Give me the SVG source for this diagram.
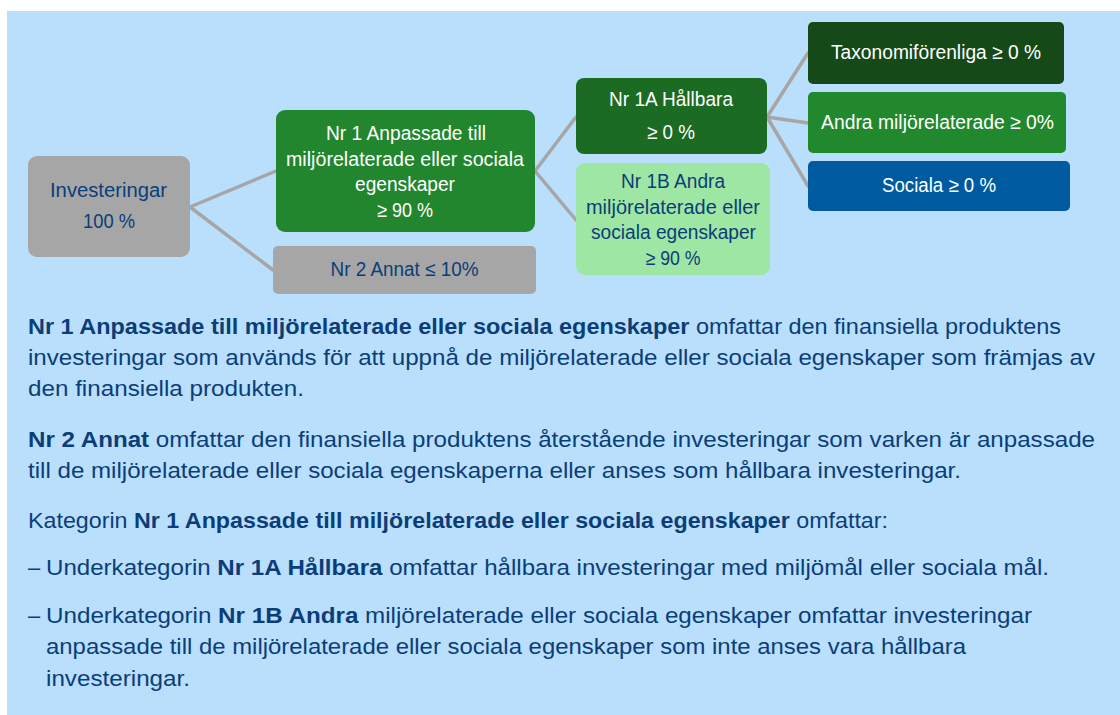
<svg xmlns="http://www.w3.org/2000/svg" width="1120" height="715" viewBox="0 0 1120 715">
<style>
.t{font-family:"Liberation Sans",Arial,sans-serif;font-size:20px;text-anchor:middle}
.w{fill:#ffffff}
.b{fill:#0B3E78}
.p{font-family:"Liberation Sans",Arial,sans-serif;font-size:22px;fill:#0B3E78}
.bd{font-weight:bold}
.c line{stroke:#A6A6A6;stroke-width:3.5;stroke-linecap:round}
</style>
<rect x="0" y="0" width="1120" height="715" fill="#ffffff"/>
<rect x="7" y="11" width="1113" height="704" fill="#B9DFFD"/>
<g class="c" id="connectors">
<line x1="190" y1="207" x2="276" y2="171"/>
<line x1="190" y1="207" x2="273" y2="270"/>
<line x1="535" y1="171" x2="576" y2="117"/>
<line x1="535" y1="171" x2="576" y2="220"/>
<line x1="767" y1="117" x2="808" y2="53"/>
<line x1="767" y1="117" x2="808" y2="123"/>
<line x1="767" y1="117" x2="808" y2="186"/>
</g>
<g id="investeringar">
<rect x="28" y="156" width="162" height="101" rx="9" fill="#A6A6A6"/>
<text class="t b" x="108.5" y="197" textLength="117" lengthAdjust="spacingAndGlyphs">Investeringar</text>
<text class="t b" x="109" y="228" textLength="52" lengthAdjust="spacingAndGlyphs">100 %</text>
</g>
<g id="nr1">
<rect x="276" y="110" width="259" height="122" rx="9" fill="#21862D"/>
<text class="t w" x="406" y="140" textLength="160" lengthAdjust="spacingAndGlyphs">Nr 1 Anpassade till</text>
<text class="t w" x="405" y="166" textLength="238" lengthAdjust="spacingAndGlyphs">miljörelaterade eller sociala</text>
<text class="t w" x="405" y="191" textLength="100" lengthAdjust="spacingAndGlyphs">egenskaper</text>
<text class="t w" x="405" y="217" textLength="56" lengthAdjust="spacingAndGlyphs">≥ 90 %</text>
</g>
<g id="nr2">
<rect x="273" y="246" width="263" height="48" rx="5" fill="#A6A6A6"/>
<text class="t b" x="404.5" y="276" textLength="148" lengthAdjust="spacingAndGlyphs">Nr 2 Annat ≤ 10%</text>
</g>
<g id="nr1a">
<rect x="576" y="78" width="191" height="76" rx="8" fill="#1B6B22"/>
<text class="t w" x="671" y="106" textLength="124" lengthAdjust="spacingAndGlyphs">Nr 1A Hållbara</text>
<text class="t w" x="671" y="139" textLength="48" lengthAdjust="spacingAndGlyphs">≥ 0 %</text>
</g>
<g id="nr1b">
<rect x="576" y="163" width="194" height="112" rx="9" fill="#9EE6A3"/>
<text class="t b" x="673" y="188" textLength="104" lengthAdjust="spacingAndGlyphs">Nr 1B Andra</text>
<text class="t b" x="673" y="214" textLength="174" lengthAdjust="spacingAndGlyphs">miljörelaterade eller</text>
<text class="t b" x="673.5" y="239" textLength="165" lengthAdjust="spacingAndGlyphs">sociala egenskaper</text>
<text class="t b" x="673" y="265" textLength="55" lengthAdjust="spacingAndGlyphs">≥ 90 %</text>
</g>
<g id="taxonomi">
<rect x="808" y="22" width="256" height="62" rx="5" fill="#154A18"/>
<text class="t w" x="936" y="59" textLength="210" lengthAdjust="spacingAndGlyphs">Taxonomiförenliga ≥ 0 %</text>
</g>
<g id="andra">
<rect x="808" y="92" width="258" height="61" rx="5" fill="#22882D"/>
<text class="t w" x="937.5" y="129" textLength="233" lengthAdjust="spacingAndGlyphs">Andra miljörelaterade ≥ 0%</text>
</g>
<g id="sociala">
<rect x="808" y="161" width="262" height="50" rx="5" fill="#005AA0"/>
<text class="t w" x="939" y="192" textLength="114" lengthAdjust="spacingAndGlyphs">Sociala ≥ 0 %</text>
</g>
<g id="text">
<text class="p" x="28" y="334" textLength="1033" lengthAdjust="spacingAndGlyphs"><tspan class="bd">Nr 1 Anpassade till miljörelaterade eller sociala egenskaper</tspan> omfattar den finansiella produktens</text>
<text class="p" x="28" y="365" textLength="1067" lengthAdjust="spacingAndGlyphs">investeringar som används för att uppnå de miljörelaterade eller sociala egenskaper som främjas av</text>
<text class="p" x="28" y="396" textLength="276" lengthAdjust="spacingAndGlyphs">den finansiella produkten.</text>
<text class="p" x="28" y="447" textLength="1067" lengthAdjust="spacingAndGlyphs"><tspan class="bd">Nr 2 Annat</tspan> omfattar den finansiella produktens återstående investeringar som varken är anpassade</text>
<text class="p" x="28" y="478" textLength="933" lengthAdjust="spacingAndGlyphs">till de miljörelaterade eller sociala egenskaperna eller anses som hållbara investeringar.</text>
<text class="p" x="28" y="528" textLength="860" lengthAdjust="spacingAndGlyphs">Kategorin <tspan class="bd">Nr 1 Anpassade till miljörelaterade eller sociala egenskaper</tspan> omfattar:</text>
<text class="p" x="28" y="575">–</text>
<text class="p" x="46" y="575" textLength="1003" lengthAdjust="spacingAndGlyphs">Underkategorin <tspan class="bd">Nr 1A Hållbara</tspan> omfattar hållbara investeringar med miljömål eller sociala mål.</text>
<text class="p" x="28" y="623">–</text>
<text class="p" x="46" y="623" textLength="986" lengthAdjust="spacingAndGlyphs">Underkategorin <tspan class="bd">Nr 1B Andra</tspan> miljörelaterade eller sociala egenskaper omfattar investeringar</text>
<text class="p" x="46" y="654" textLength="920" lengthAdjust="spacingAndGlyphs">anpassade till de miljörelaterade eller sociala egenskaper som inte anses vara hållbara</text>
<text class="p" x="46" y="686" textLength="144" lengthAdjust="spacingAndGlyphs">investeringar.</text>
</g>
</svg>
